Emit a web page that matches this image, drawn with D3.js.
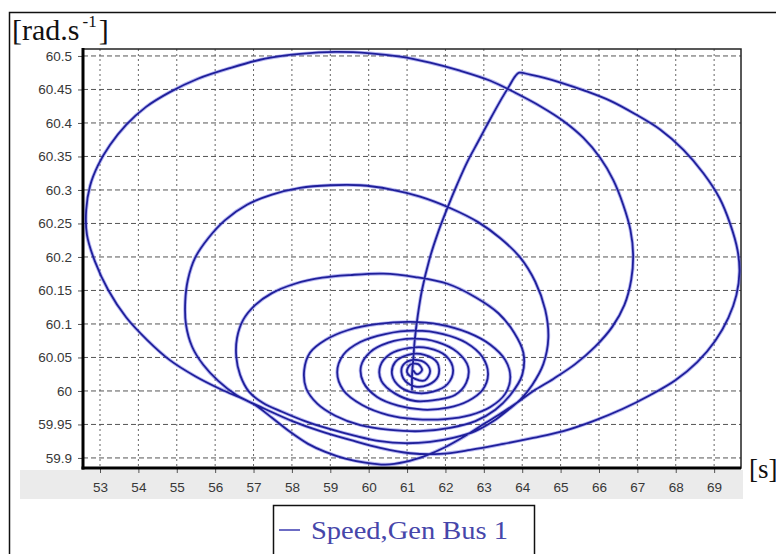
<!DOCTYPE html>
<html>
<head>
<meta charset="utf-8">
<script src="https://cdn.jsdelivr.net/npm/d3@7"></script>
<style>
  body { margin: 0; background: #fff; }
  svg { display: block; }
</style>
</head>
<body>
<svg id="chart" width="776" height="554"></svg>
<script>
// Tick values of both axes
const angleTicks = [53, 54, 55, 56, 57, 58, 59, 60, 61, 62, 63, 64, 65, 66, 67, 68, 69];
const speedTicks = [59.9, 59.95, 60, 60.05, 60.1, 60.15, 60.2, 60.25, 60.3, 60.35, 60.4, 60.45, 60.5];
const speedTickLabels = ["59.9", "59.95", "60", "60.05", "60.1", "60.15", "60.2", "60.25", "60.3", "60.35", "60.4", "60.45", "60.5"];

// Trajectory of the generator (horizontal quantity vs speed in rad/s),
// one line per swing: fault-on rise, then the decaying clockwise swings
const angle = [
  61.13, 61.13, 61.16, 61.20, 61.28, 61.39, 61.58, 61.81, 62.05, 62.31, 62.57, 62.85, 63.14, 63.43, 63.66, 63.82, 63.92,
  64.21, 64.60, 65.02, 65.64, 66.30, 66.95, 67.60, 68.20, 68.72, 69.14, 69.42, 69.61, 69.66, 69.58, 69.37, 69.03, 68.56, 67.99, 67.34, 66.61, 65.85, 65.07, 64.29, 63.51, 62.65, 61.86, 61.08, 60.30, 59.52, 58.74, 58.01, 57.30, 56.73, 56.13, 55.48, 54.82, 54.23, 53.68, 53.21, 52.87, 52.66, 52.64, 52.74, 52.95, 53.26, 53.68, 54.20, 54.82, 55.55, 56.39, 57.30, 58.21, 59.13, 60.04, 60.82, 61.60, 62.38, 63.17, 63.82, 64.47, 65.07, 65.59, 66.03, 66.37, 66.63, 66.82, 66.89, 66.84, 66.66, 66.35, 65.90, 65.38, 64.81, 64.29, 63.90,
  63.51, 63.04, 62.52, 61.99, 61.47, 60.95, 60.43, 59.91, 59.39, 58.87, 58.42, 57.95, 57.48, 57.04, 56.55, 56.08, 55.69, 55.40, 55.24, 55.22, 55.29, 55.48, 55.82, 56.26, 56.83, 57.48, 58.21, 59.00, 59.78, 60.56, 61.34, 62.12, 62.85, 63.43, 63.95, 64.34, 64.60, 64.68, 64.55, 64.26, 63.95,
  63.64, 63.25, 62.78, 62.20, 61.60, 60.95, 60.30, 59.65, 59.00, 58.34, 57.74, 57.25, 56.88, 56.65, 56.55, 56.57, 56.73, 57.04, 57.48, 58.08, 58.79, 59.52, 60.38, 61.21, 62.05, 62.78, 63.38, 63.79, 64.03, 64.00, 63.69,
  63.30, 62.78, 62.12, 61.34, 60.56, 59.78, 59.13, 58.66, 58.37, 58.32, 58.47, 58.87, 59.47, 60.25, 61.08, 61.86, 62.59, 63.17, 63.56, 63.69, 63.56, 63.17,
  62.65, 61.99, 61.21, 60.51, 59.83, 59.34, 59.18, 59.34, 59.78, 60.43, 61.21, 61.94, 62.54, 62.96, 63.11, 62.96, 62.59,
  62.07, 61.42, 60.77, 60.22, 59.86, 59.80, 60.04, 60.51, 61.13, 61.79, 62.31, 62.59, 62.54, 62.25,
  61.79, 61.21, 60.69, 60.33, 60.30, 60.56, 61.03, 61.55, 62.02, 62.20, 62.05, 61.68,
  61.24, 60.82, 60.61, 60.69, 61.03, 61.45, 61.79, 61.81, 61.55,
  61.19, 60.90, 60.87, 61.11, 61.45, 61.60, 61.47,
  61.21, 61.00, 61.08, 61.29, 61.39, 61.26, 61.16
];
const speed = [
  60.001, 60.024, 60.046, 60.076, 60.113, 60.151, 60.196, 60.237, 60.273, 60.309, 60.342, 60.372, 60.403, 60.433, 60.455, 60.470, 60.475,
  60.472, 60.467, 60.460, 60.448, 60.433, 60.413, 60.390, 60.360, 60.325, 60.288, 60.249, 60.210, 60.178, 60.143, 60.109, 60.075, 60.043, 60.016, 59.994, 59.973, 59.955, 59.940, 59.930, 59.921, 59.912, 59.906, 59.907, 59.915, 59.927, 59.940, 59.955, 59.973, 59.988, 60.003, 60.022, 60.046, 60.076, 60.110, 60.151, 60.193, 60.233, 60.270, 60.306, 60.337, 60.367, 60.397, 60.424, 60.446, 60.466, 60.482, 60.496, 60.503, 60.506, 60.504, 60.499, 60.490, 60.478, 60.463, 60.445, 60.425, 60.403, 60.378, 60.348, 60.315, 60.278, 60.240, 60.203, 60.166, 60.128, 60.096, 60.066, 60.040, 60.018, 60.000, 59.984,
  59.969, 59.952, 59.933, 59.916, 59.903, 59.894, 59.890, 59.893, 59.899, 59.909, 59.921, 59.939, 59.960, 59.979, 59.994, 60.015, 60.039, 60.066, 60.099, 60.133, 60.166, 60.199, 60.228, 60.255, 60.278, 60.293, 60.303, 60.307, 60.307, 60.301, 60.290, 60.273, 60.252, 60.228, 60.199, 60.163, 60.121, 60.079, 60.040, 60.009, 59.987,
  59.972, 59.955, 59.940, 59.930, 59.924, 59.922, 59.925, 59.933, 59.943, 59.955, 59.969, 59.982, 59.999, 60.024, 60.051, 60.079, 60.106, 60.128, 60.146, 60.160, 60.169, 60.173, 60.175, 60.170, 60.160, 60.140, 60.116, 60.087, 60.057, 60.024, 59.994,
  59.972, 59.955, 59.945, 59.940, 59.942, 59.949, 59.963, 59.981, 60.004, 60.031, 60.057, 60.076, 60.091, 60.100, 60.103, 60.099, 60.087, 60.069, 60.046, 60.021, 59.996, 59.976,
  59.964, 59.958, 59.958, 59.964, 59.979, 60.001, 60.028, 60.054, 60.073, 60.085, 60.090, 60.085, 60.072, 60.051, 60.025, 60.001, 59.985,
  59.975, 59.972, 59.978, 59.991, 60.013, 60.037, 60.058, 60.072, 60.078, 60.073, 60.058, 60.036, 60.012, 59.994,
  59.987, 59.985, 59.996, 60.015, 60.037, 60.055, 60.064, 60.064, 60.052, 60.031, 60.010, 59.999,
  59.997, 60.006, 60.024, 60.043, 60.054, 60.054, 60.042, 60.022, 60.009,
  60.007, 60.019, 60.036, 60.046, 60.043, 60.030, 60.016,
  60.018, 60.028, 60.039, 60.040, 60.031, 60.025, 60.031
];

const seriesName = "Speed,Gen Bus 1";

const svg = d3.select("#chart");
const plot = { left: 83, top: 49, right: 741, bottom: 468 };

const x = d3.scaleLinear().domain([52.557, 69.70]).range([plot.left, plot.right]);
const y = d3.scaleLinear().domain([59.885, 60.5104]).range([plot.bottom, plot.top]);

// Outer frame
svg.append("rect")
  .attr("x", 9.5).attr("y", 12.5).attr("width", 800).attr("height", 600)
  .attr("fill", "none").attr("stroke", "#111").attr("stroke-width", 1.5);

// Grey band behind the horizontal tick labels
svg.append("rect")
  .attr("x", 20).attr("y", plot.bottom + 2).attr("width", 723).attr("height", 29)
  .attr("fill", "#ebebeb");

// Plot background
svg.append("rect")
  .attr("x", plot.left).attr("y", plot.top)
  .attr("width", plot.right - plot.left).attr("height", plot.bottom - plot.top)
  .attr("fill", "#fff");

// Grid
const grid = svg.append("g");
grid.selectAll("line.v").data(angleTicks).join("line")
  .attr("x1", d => x(d)).attr("x2", d => x(d))
  .attr("y1", plot.top).attr("y2", plot.bottom)
  .attr("stroke", "#666").attr("stroke-width", 1).attr("stroke-dasharray", "2,3");
grid.selectAll("line.h").data(speedTicks).join("line")
  .attr("y1", d => y(d)).attr("y2", d => y(d))
  .attr("x1", plot.left).attr("x2", plot.right)
  .attr("stroke", "#555").attr("stroke-width", 1).attr("stroke-dasharray", "5,3");

// Axes
const yAxis = d3.axisLeft(y).tickValues(speedTicks)
  .tickFormat((d, i) => speedTickLabels[i]).tickSize(5).tickPadding(6);
const gy = svg.append("g").attr("transform", `translate(${plot.left},0)`).call(yAxis);
const xAxis = d3.axisBottom(x).tickValues(angleTicks).tickFormat(d3.format("d")).tickSize(5).tickPadding(9);
const gx = svg.append("g").attr("transform", `translate(0,${plot.bottom})`).call(xAxis);
[gy, gx].forEach(g => {
  g.select(".domain").remove();
  g.selectAll(".tick line").attr("stroke", "#555");
  g.selectAll(".tick text")
    .attr("font-family", "'Liberation Sans', Arial, sans-serif")
    .attr("font-size", 13.5).attr("fill", "#383838");
});

// Plot border: thin top/right, heavy left/bottom
svg.append("rect")
  .attr("x", plot.left).attr("y", plot.top)
  .attr("width", plot.right - plot.left).attr("height", plot.bottom - plot.top)
  .attr("fill", "none").attr("stroke", "#222").attr("stroke-width", 1.5);
svg.append("line")
  .attr("x1", plot.left).attr("x2", plot.left)
  .attr("y1", plot.top - 1).attr("y2", plot.bottom + 1.5)
  .attr("stroke", "#000").attr("stroke-width", 3);
svg.append("line")
  .attr("x1", plot.left - 1.5).attr("x2", plot.right)
  .attr("y1", plot.bottom).attr("y2", plot.bottom)
  .attr("stroke", "#000").attr("stroke-width", 3);

// Trajectory
const pts = angle.map((a, i) => [a, speed[i]]);
const line = d3.line().x(d => x(d[0])).y(d => y(d[1])).curve(d3.curveCatmullRom.alpha(0.5));
svg.append("path").datum(pts)
  .attr("d", line).attr("fill", "none")
  .attr("stroke", "#5a5ae0").attr("stroke-opacity", 0.45).attr("stroke-width", 3.6)
  .attr("stroke-linejoin", "round");
svg.append("path").datum(pts)
  .attr("d", line).attr("fill", "none")
  .attr("stroke", "#1f1f9a").attr("stroke-width", 1.8)
  .attr("stroke-linejoin", "round");

// Axis unit labels
const serif = "'Liberation Serif', 'Times New Roman', serif";
const yUnit = svg.append("text")
  .attr("x", 12).attr("y", 40)
  .attr("font-family", serif).attr("font-size", 30).attr("fill", "#111");
yUnit.append("tspan").text("[rad.s");
yUnit.append("tspan").attr("dy", -13).attr("dx", 3).attr("font-size", 17).text("-1");
yUnit.append("tspan").attr("dy", 13).attr("dx", 2).text("]");

svg.append("text")
  .attr("x", 749).attr("y", 478)
  .attr("font-family", serif).attr("font-size", 27).attr("fill", "#111")
  .text("[s]");

// Legend
svg.append("rect")
  .attr("x", 273.5).attr("y", 505.5).attr("width", 261).attr("height", 80)
  .attr("fill", "#fff").attr("stroke", "#111").attr("stroke-width", 1.5);
svg.append("line")
  .attr("x1", 279).attr("x2", 300).attr("y1", 530).attr("y2", 530)
  .attr("stroke", "#3b3bb0").attr("stroke-width", 1.5);
svg.append("text")
  .attr("x", 311).attr("y", 539)
  .attr("font-family", serif).attr("font-size", 25).attr("fill", "#4646aa")
  .attr("textLength", 197).attr("lengthAdjust", "spacingAndGlyphs")
  .text(seriesName);
</script>
</body>
</html>
